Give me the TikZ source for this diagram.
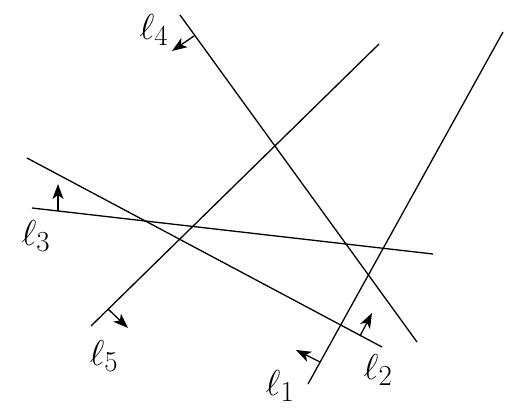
\RequirePackage{fix-cm}
\documentclass[tikz,border=0pt]{standalone}
\usetikzlibrary{arrows.meta,calc}
\DeclareMathSizes{36}{36}{29}{22}
\begin{document}
\begin{tikzpicture}[x=1pt,y=-1pt,
  ln/.style={line width=1.3pt},
  nrm/.style={line width=1.3pt,-{Stealth[length=15pt,width=11pt,inset=4pt]}},
  lbl/.style={font=\fontsize{36}{42}\selectfont, inner sep=0pt}]
\useasboundingbox (0,0) rectangle (521,412);
% line endpoints
\coordinate (a1) at (308,384); \coordinate (b1) at (503,32);
\coordinate (a2) at (27,158);  \coordinate (b2) at (382,347);
\coordinate (a3) at (32,208);  \coordinate (b3) at (433,254);
\coordinate (a4) at (180,15);  \coordinate (b4) at (417,342);
\coordinate (a5) at (91,326);  \coordinate (b5) at (379,44);
\draw[ln] (a1) -- (b1);
\draw[ln] (a2) -- (b2);
\draw[ln] (a3) -- (b3);
\draw[ln] (a4) -- (b4);
\draw[ln] (a5) -- (b5);
% normal arrows
\coordinate (s1) at (320,362);  \coordinate (t1) at (296,350);
\coordinate (s2) at (360,336);  \coordinate (t2) at (372,313);
\coordinate (s3) at (58,211);   \coordinate (t3) at (58,184);
\coordinate (s4) at (194,36);   \coordinate (t4) at (172,51);
\coordinate (s5) at (108,309);  \coordinate (t5) at (128,328);
\draw[nrm] (s1) -- (t1);
\draw[nrm] (s2) -- (t2);
\draw[nrm] (s3) -- (t3);
\draw[nrm] (s4) -- (t4);
\draw[nrm] (s5) -- (t5);
% labels
\node[lbl] (l1) at (280,386) {$\ell_1$};
\node[lbl] (l2) at (378,370) {$\ell_2$};
\node[lbl] (l3) at (36,236) {$\ell_3$};
\node[lbl] (l4) at (154,30) {$\ell_4$};
\node[lbl] (l5) at (104,356) {$\ell_5$};
\end{tikzpicture}
\end{document}
